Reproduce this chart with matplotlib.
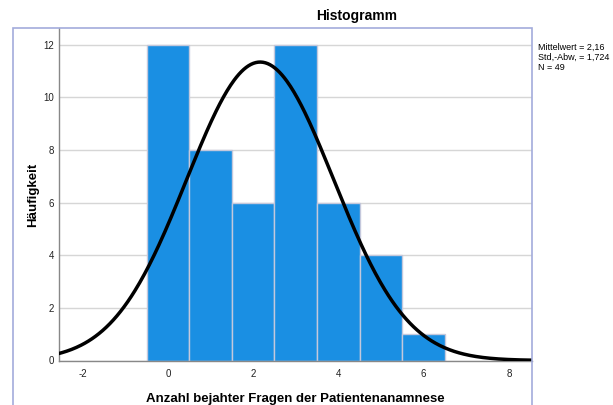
import matplotlib.pyplot as plt
import numpy as np
from matplotlib.patches import Rectangle

plt.rcParams["font.family"] = ["Liberation Sans", "DejaVu Sans"]
plt.rcParams["axes.unicode_minus"] = False

# histogram data (value -> frequency)
values = [0, 1, 2, 3, 4, 5, 6]
counts = [12, 8, 6, 12, 6, 4, 1]
x_ticks = [-2, 0, 2, 4, 6, 8]
y_ticks = [0, 2, 4, 6, 8, 10, 12]

vals = np.repeat(values, counts)
n = len(vals)
mean = vals.mean()
std = vals.std(ddof=1)

W, H = 613, 405
fig = plt.figure(figsize=(W / 100, H / 100), dpi=100)
ax = fig.add_axes([59.3 / W, 1 - 360.5 / H, (532.3 - 59.3) / W, (360.5 - 28.3) / H])

# chart frame
fig.patches.append(Rectangle((13.3 / W, -0.02), (532.3 - 13.3) / W, 0.02 + 1 - 28.3 / H,
                             transform=fig.transFigure, fill=False,
                             edgecolor="#a3acdb", linewidth=1.2, zorder=5))

ax.set_axisbelow(True)
ax.yaxis.grid(True, color="#d6d6d6", linewidth=1)
ax.bar(values, counts, width=1.0, color="#1a8fe3", edgecolor="#c4c8dc", linewidth=1.0, zorder=2)

xs = np.linspace(-2.6, 8.6, 400)
pdf = n * np.exp(-0.5 * ((xs - mean) / std) ** 2) / (std * np.sqrt(2 * np.pi))
ax.plot(xs, pdf, color="black", linewidth=2.5, zorder=3)

ax.set_xlim(-2.55, 8.55)
ax.set_ylim(0, 12.62)
ax.set_xticks(x_ticks)
ax.set_yticks(y_ticks)
ax.tick_params(length=0, labelsize=7, colors="#222222")
ax.tick_params(axis="x", pad=6)
ax.tick_params(axis="y", pad=4)
for s in ["top", "right"]:
    ax.spines[s].set_visible(False)
for s in ["left", "bottom"]:
    ax.spines[s].set_color("#888888")
    ax.spines[s].set_linewidth(1)

ax.set_xlabel("Anzahl bejahter Fragen der Patientenanamnese", fontsize=9.5,
              fontweight="bold", labelpad=10)
ax.set_ylabel("Häufigkeit", fontsize=9.5, fontweight="bold", labelpad=3)
fig.text(357 / W, 1 - 16 / H, "Histogramm", fontsize=10, fontweight="bold",
         ha="center", va="center")

stats = (f"Mittelwert = {mean:.2f}".replace(".", ",") + "\n"
         + f"Std.-Abw. = {std:.3f}".replace(".", ",") + "\n"
         + f"N = {n}")
fig.text(538 / W, 1 - 43 / H, stats, fontsize=6.5, ha="left", va="top",
         linespacing=1.15)

fig.savefig("out.png", dpi=100)
